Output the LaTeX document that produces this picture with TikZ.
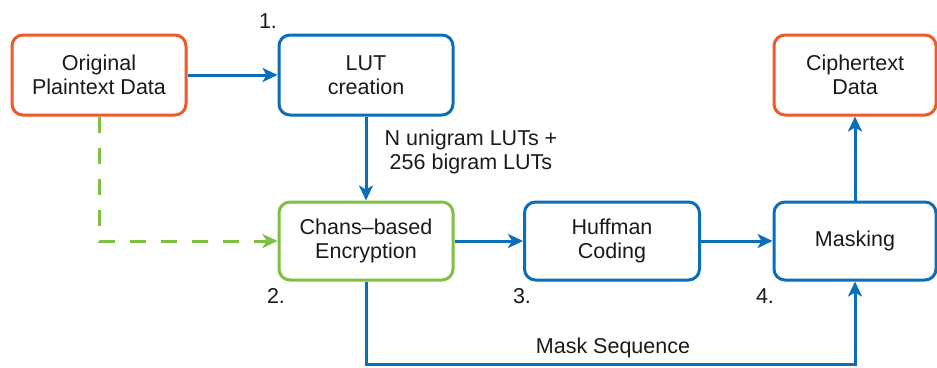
\documentclass[tikz,border=0pt]{standalone}
\usepackage{fontspec}
\setmainfont{Liberation Sans}
\usetikzlibrary{arrows.meta}
\definecolor{orng}{HTML}{F05A28}
\definecolor{blu}{HTML}{0A6EB8}
\definecolor{grn}{HTML}{7CC140}
\definecolor{txt}{HTML}{1A1A1A}
\begin{document}
\begin{tikzpicture}[x=1pt,y=-1pt,
  box/.style={draw, line width=3pt, rounded corners=11pt, minimum width=174pt, minimum height=80pt, align=center, font=\fontsize{21.5}{24.5}\selectfont, text=txt, fill=white, inner sep=2pt},
  lbl/.style={font=\fontsize{21.5}{24.5}\selectfont, text=txt, align=center, inner sep=1pt},
  arr/.style={line width=3pt, -{Stealth[length=15pt,width=14pt,inset=4pt]}}]
\useasboundingbox (0,0) rectangle (937,367);
\node[box, draw=orng] (orig) at (99,75) {Original\\Plaintext Data};
\node[box, draw=blu] (lut) at (366,75) {LUT\\creation};
\node[box, draw=orng, minimum width=162pt] (ciph) at (855,75) {Ciphertext\\Data};
\node[box, draw=grn, minimum height=78pt] (chans) at (366,241) {Chans–based\\Encryption};
\node[box, draw=blu, minimum width=175pt, minimum height=78pt] (huff) at (612,241) {Huffman\\Coding};
\node[box, draw=blu, minimum width=162pt, minimum height=78pt] (mask) at (855,241) {Masking};
\draw[arr, blu] (orig) -- (lut);
\draw[arr, blu] (lut) -- (chans);
\draw[arr, blu] (chans) -- (huff);
\draw[arr, blu] (huff) -- (mask);
\draw[arr, blu] (mask) -- (ciph);
\coordinate (bl) at (366,364.5);
\draw[arr, blu] (chans.south) -- (bl) -| (mask.south);
\draw[arr, grn, dash pattern=on 16pt off 15pt] (orig.south) |- (chans.west);
\node[lbl] (n1) at (268,21) {1.};
\node[lbl] (n2) at (276,296) {2.};
\node[lbl] (n3) at (522,296) {3.};
\node[lbl] (n4) at (765,296) {4.};
\node[lbl] (lutlbl) at (471,152) {N unigram LUTs +\\256 bigram LUTs};
\node[lbl] (ms) at (613,348) {Mask Sequence};
\end{tikzpicture}
\end{document}
